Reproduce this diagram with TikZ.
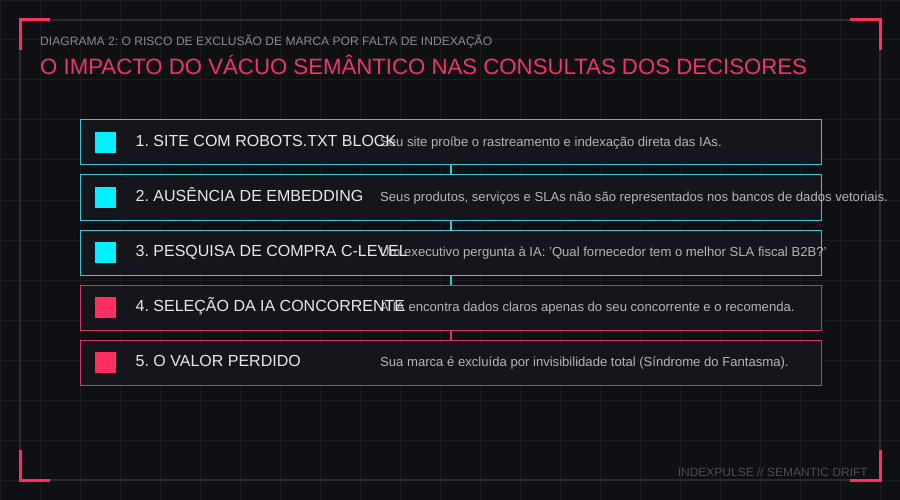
\documentclass[tikz,border=0pt]{standalone}
\usepackage{fontspec}
\setmainfont{Liberation Sans}
\usetikzlibrary{positioning}
\frenchspacing

\definecolor{bgdark}{HTML}{0F1014}
\definecolor{gridgray}{HTML}{1A1C21}
\definecolor{framegray}{HTML}{2A2B31}
\definecolor{boxfill}{HTML}{15161B}
\definecolor{cyanline}{HTML}{2FC8D4}
\definecolor{cyanfill}{HTML}{00F0FF}
\definecolor{pinkline}{HTML}{D6336A}
\definecolor{pinkfill}{HTML}{FF2D60}
\definecolor{titlepink}{HTML}{F0336A}
\definecolor{subgray}{HTML}{8A8A90}
\definecolor{labelwhite}{HTML}{E8E8EA}
\definecolor{descgray}{HTML}{B4B4BA}
\definecolor{footgray}{HTML}{4C4D54}

\tikzset{
  stagebox/.style={rectangle,draw,fill=boxfill,line width=1pt,minimum width=741pt,minimum height=45pt,inner sep=0pt,outer sep=0pt},
  cyanbox/.style={stagebox,draw=cyanline},
  pinkbox/.style={stagebox,draw=pinkline},
  cyansq/.style={rectangle,fill=cyanfill,minimum size=21pt,inner sep=0pt},
  pinksq/.style={rectangle,fill=pinkfill,minimum size=21pt,inner sep=0pt},
  lbl/.style={anchor=base west,inner sep=0pt,text=labelwhite,font=\fontsize{16}{18}\selectfont},
  desc/.style={anchor=base west,inner sep=0pt,text=descgray,font=\fontsize{13.1}{15}\selectfont},
  cyanlink/.style={cyanline,line width=2pt},
  pinklink/.style={pinkline,line width=2pt},
  corner/.style={pinkfill,line width=3pt}
}

\begin{document}
\begin{tikzpicture}[x=1pt,y=-1pt]
\useasboundingbox (0,0) rectangle (900,500);
\fill[bgdark] (0,0) rectangle (900,500);
\draw[gridgray,line width=1pt] (0,0) grid[step=40pt] (900,500);

% frame and corners
\draw[framegray,line width=1.2pt] (20,20) rectangle (880,480);
\draw[corner] (20,50) -- (20,20) -- (50,20);
\draw[corner] (850,20) -- (880,20) -- (880,50);
\draw[corner] (20,450) -- (20,480) -- (50,480);
\draw[corner] (850,480) -- (880,480) -- (880,450);

% headings
\node[anchor=base west,inner sep=0pt,text=subgray,font=\fontsize{12.1}{14}\selectfont] (sub) at (40,46) {DIAGRAMA 2: O RISCO DE EXCLUSÃO DE MARCA POR FALTA DE INDEXAÇÃO};
\node[anchor=base west,inner sep=0pt,text=titlepink,font=\fontsize{22.2}{25}\selectfont] (title) at (40,75) {O IMPACTO DO VÁCUO SEMÂNTICO NAS CONSULTAS DOS DECISORES};

% stages
\node[cyanbox] (b1) at (450.5,142.5) {};
\node[cyanbox,below=10pt of b1] (b2) {};
\node[cyanbox,below=10pt of b2] (b3) {};
\node[pinkbox,below=10pt of b3] (b4) {};
\node[pinkbox,below=10pt of b4] (b5) {};

\draw[cyanlink] (b1.south) -- (b2.north);
\draw[cyanlink] (b2.south) -- (b3.north);
\draw[cyanlink] (b3.south) -- (b4.north);
\draw[pinklink] (b4.south) -- (b5.north);

\node[cyansq,right=15pt of b1.west] (s1) {};
\node[cyansq,right=15pt of b2.west] (s2) {};
\node[cyansq,right=15pt of b3.west] (s3) {};
\node[pinksq,right=15pt of b4.west] (s4) {};
\node[pinksq,right=15pt of b5.west] (s5) {};

\node[desc] (d1) at ([xshift=300pt,yshift=-4pt]b1.west) {Seu site proíbe o rastreamento e indexação direta das IAs.};
\node[desc] (d2) at ([xshift=300pt,yshift=-4pt]b2.west) {Seus produtos, serviços e SLAs não são representados nos bancos de dados vetoriais.};
\node[desc] (d3) at ([xshift=300pt,yshift=-4pt]b3.west) {Um executivo pergunta à IA: 'Qual fornecedor tem o melhor SLA fiscal B2B?'};
\node[desc] (d4) at ([xshift=300pt,yshift=-4pt]b4.west) {A IA encontra dados claros apenas do seu concorrente e o recomenda.};
\node[desc] (d5) at ([xshift=300pt,yshift=-4pt]b5.west) {Sua marca é excluída por invisibilidade total (Síndrome do Fantasma).};

\node[lbl] (l1) at ([xshift=55.5pt,yshift=-4pt]b1.west) {1. SITE COM ROBOTS.TXT BLOCK};
\node[lbl] (l2) at ([xshift=55.5pt,yshift=-4pt]b2.west) {2. AUSÊNCIA DE EMBEDDING};
\node[lbl] (l3) at ([xshift=55.5pt,yshift=-4pt]b3.west) {3. PESQUISA DE COMPRA C-LEVEL};
\node[lbl] (l4) at ([xshift=55.5pt,yshift=-4pt]b4.west) {4. SELEÇÃO DA IA CONCORRENTE};
\node[lbl] (l5) at ([xshift=55.5pt,yshift=-4pt]b5.west) {5. O VALOR PERDIDO};

% footer
\node[anchor=base east,inner sep=0pt,text=footgray,font=\fontsize{12}{14}\selectfont] (foot) at (868,476) {INDEXPULSE // SEMANTIC DRIFT};
\end{tikzpicture}
\end{document}
